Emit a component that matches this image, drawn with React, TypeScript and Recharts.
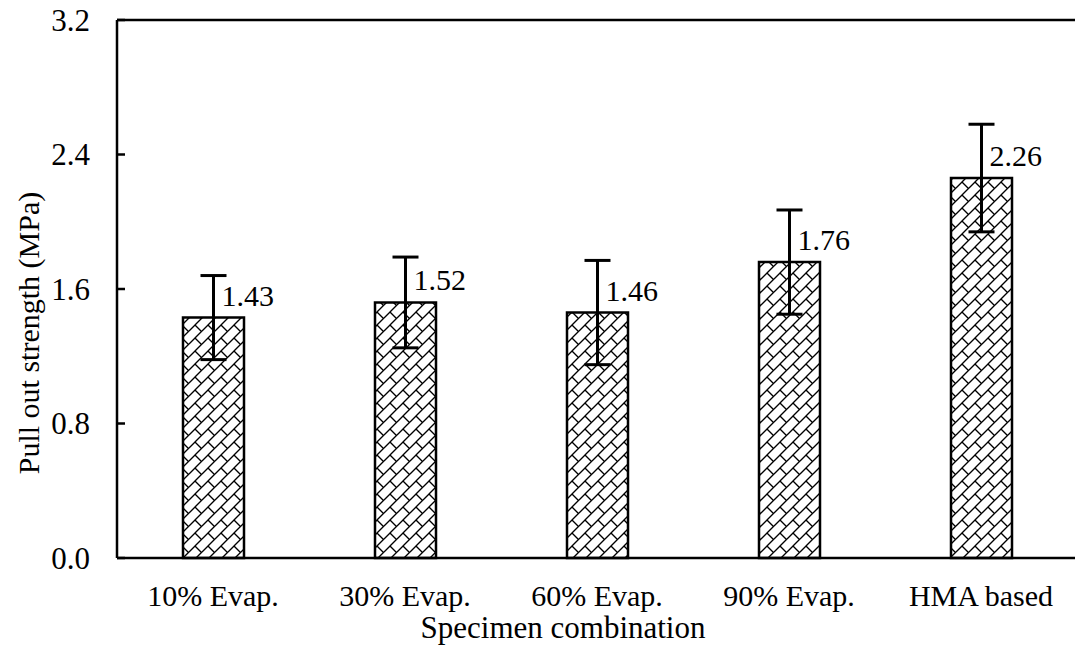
import React from 'react';
import { BarChart, Bar, XAxis, YAxis, ErrorBar, LabelList, ReferenceLine } from 'recharts';

const categories = ['10% Evap.', '30% Evap.', '60% Evap.', '90% Evap.', 'HMA based'];
const strengths = [1.43, 1.52, 1.46, 1.76, 2.26];
const errors = [0.25, 0.27, 0.31, 0.31, 0.32];
const yTicks = [0, 0.8, 1.6, 2.4, 3.2];

const data = categories.map((c, i) => ({ name: c, value: strengths[i], err: errors[i] }));

const FONT = '"Liberation Serif", "Times New Roman", serif';
const txt = (size: number) => ({ fontFamily: FONT, fontSize: size, fill: '#000' });

const YTick = (props: any) => {
  const { x, y, payload } = props;
  return (
    <g>
      <line x1={x} x2={x + 8} y1={y} y2={y} stroke="#000" strokeWidth={2.5} />
      <text x={x - 27} y={y} dy="0.35em" textAnchor="end" style={txt(31)}>
        {Number(payload.value).toFixed(1)}
      </text>
    </g>
  );
};

const XTick = (props: any) => {
  const { x, y, payload } = props;
  return (
    <text x={x} y={y + 27} dy="0.71em" textAnchor="middle" style={txt(30)}>
      {payload.value}
    </text>
  );
};

const ValueLabel = (props: any) => {
  const { x, y, width, value } = props;
  return (
    <text x={x + width / 2 + 8} y={y - 12} textAnchor="start" style={txt(30)}>
      {Number(value).toFixed(2)}
    </text>
  );
};

const XTitle = (props: any) => {
  const { viewBox } = props;
  return (
    <text x={viewBox.x + viewBox.width / 2 - 34} y={viewBox.y + 80} textAnchor="middle" style={txt(31)}>
      Specimen combination
    </text>
  );
};

const YTitle = (props: any) => {
  const { viewBox } = props;
  const cx = 28;
  const cy = viewBox.y + viewBox.height / 2 + 44;
  return (
    <text x={cx} y={cy} transform={`rotate(-90 ${cx} ${cy})`} dy="0.35em" textAnchor="middle" style={txt(30)}>
      Pull out strength (MPa)
    </text>
  );
};

export default function App() {
  return (
    <div style={{ position: 'absolute', left: 0, top: 0, width: 1075, height: 664, overflow: 'hidden', background: '#fff' }}>
      <BarChart width={1080} height={664} data={data} margin={{ top: 20, right: 3, bottom: 0, left: 0 }} barSize={61}>
        <defs>
          <pattern id="brick" width="13" height="13" patternUnits="userSpaceOnUse">
            <rect width="13" height="13" fill="#fff" />
            <line x1="0" y1="13" x2="13" y2="0" stroke="#000" strokeWidth={1.3} />
            <line x1="-1" y1="1" x2="1" y2="-1" stroke="#000" strokeWidth={1.3} />
            <line x1="12" y1="14" x2="14" y2="12" stroke="#000" strokeWidth={1.3} />
            <line x1="0" y1="0" x2="6.5" y2="6.5" stroke="#000" strokeWidth={1.3} />
          </pattern>
        </defs>
        <XAxis
          dataKey="name"
          height={106}
          tickLine={false}
          tickSize={0}
          tickMargin={0}
          axisLine={{ stroke: '#000', strokeWidth: 2.5 }}
          tick={<XTick />}
          interval={0}
          label={<XTitle />}
        />
        <YAxis
          width={117}
          domain={[0, 3.2]}
          ticks={yTicks}
          tickLine={false}
          tickSize={0}
          tickMargin={0}
          axisLine={{ stroke: '#000', strokeWidth: 2.5 }}
          tick={<YTick />}
          label={<YTitle />}
          interval={0}
        />
        <ReferenceLine y={3.2} stroke="#000" strokeWidth={2.5} />
        <Bar dataKey="value" fill="url(#brick)" stroke="#000" strokeWidth={2.5} isAnimationActive={false}>
          <ErrorBar dataKey="err" direction="y" width={13} stroke="#000" strokeWidth={3} />
          <LabelList dataKey="value" content={<ValueLabel />} />
        </Bar>
      </BarChart>
    </div>
  );
}
